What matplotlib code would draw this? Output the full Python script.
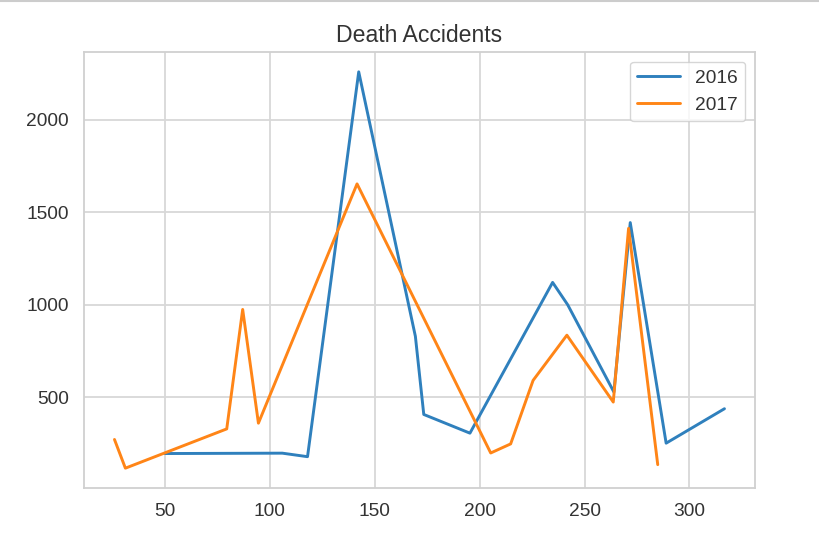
import matplotlib
matplotlib.use("Agg")
import matplotlib.pyplot as plt
import seaborn as sns
from matplotlib.lines import Line2D

# Dati
x_2016 = [50, 106, 118, 142.4, 169.4, 173.4, 195.4, 234.8, 242, 264, 271.8, 288.9, 316.7]
y_2016 = [197, 199, 180, 2258, 830, 408, 307, 1121, 1000, 529, 1444, 253, 439]

x_2017 = [26, 31.2, 79.5, 87.1, 94.6, 141.6, 205.3, 214.8, 225.5, 241.6, 263.7, 271, 284.9]
y_2017 = [273, 118, 330, 975, 361, 1653, 200, 249, 592, 836, 475, 1413, 137]

sns.set_style("whitegrid")
plt.rcParams['font.family'] = ['Liberation Sans', 'DejaVu Sans']

fig = plt.figure(figsize=(8.2, 5.6), dpi=100)
ax = fig.add_axes([0.1024, 0.1286, 0.8183, 0.7785])

ax.plot(x_2016, y_2016, label="2016", color="#2f80bd", linewidth=2.1)
ax.plot(x_2017, y_2017, label="2017", color="#ff8517", linewidth=2.1)

ax.set_xticks([50, 100, 150, 200, 250, 300])
ax.set_yticks([500, 1000, 1500, 2000])
ax.tick_params(labelsize=13.8, colors="#333333", pad=7.5)
ax.set_title("Death Accidents", fontsize=16.6, color="#333333", pad=7)
for s in ax.spines.values():
    s.set_color("#d0d0d0")
    s.set_linewidth(1.3)
ax.grid(color="#d8d8d8", linewidth=1.3)

leg = ax.legend(fontsize=13.8, loc="upper right", handlelength=2.2)
for t in leg.get_texts():
    t.set_color("#333333")

# linea grigia in alto (bordo dello screenshot)
fig.add_artist(Line2D([0, 1], [0.999, 0.999], color="#cccccc", linewidth=1.5, transform=fig.transFigure))

fig.savefig("out.png", dpi=100)
